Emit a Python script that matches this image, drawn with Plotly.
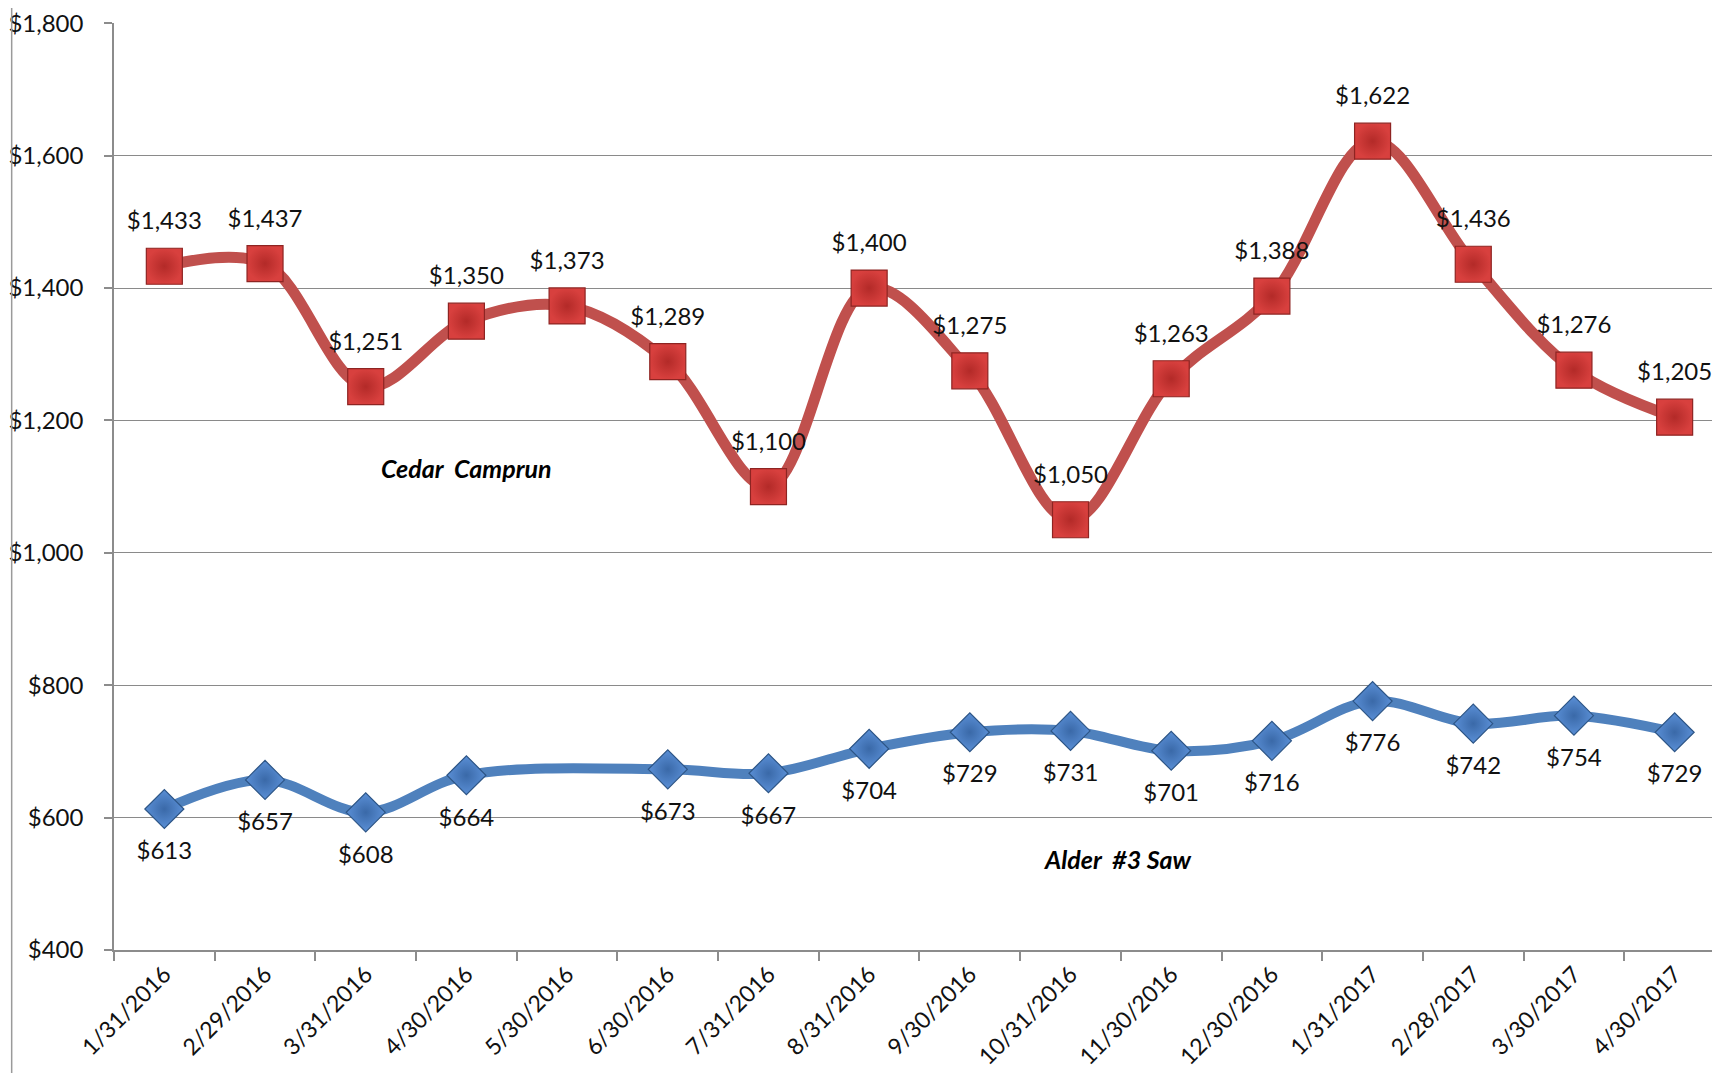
import plotly.graph_objects as go

dates = ["1/31/2016", "2/29/2016", "3/31/2016", "4/30/2016", "5/30/2016", "6/30/2016",
         "7/31/2016", "8/31/2016", "9/30/2016", "10/31/2016", "11/30/2016", "12/30/2016",
         "1/31/2017", "2/28/2017", "3/30/2017", "4/30/2017"]
cedar = [1433, 1437, 1251, 1350, 1373, 1289, 1100, 1400, 1275, 1050, 1263, 1388,
         1622, 1436, 1276, 1205]
alder = [613, 657, 608, 664, None, 673, 667, 704, 729, 731, 701, 716, 776, 742, 754, 729]

series_names = ["Cedar  Camprun", "Alder  #3 Saw"]

FONT = "Lato"
RED_LINE = "#C0504D"
BLUE_LINE = "#4F81BD"


def fmt(v):
    return "" if v is None else "${:,}".format(v)


fig = go.Figure()

# lines
fig.add_trace(go.Scatter(x=dates, y=cedar, mode="lines", line=dict(color=RED_LINE, width=11, shape="spline"),
                         hoverinfo="skip", showlegend=False))
fig.add_trace(go.Scatter(x=dates, y=alder, mode="lines", connectgaps=True,
                         line=dict(color=BLUE_LINE, width=10, shape="spline"),
                         hoverinfo="skip", showlegend=False))

# markers
fig.add_trace(go.Scatter(x=dates, y=cedar, mode="markers", name=series_names[0],
                         marker=dict(symbol="square", size=36, color="#D8403E",
                                     gradient=dict(type="radial", color="#B32A28"),
                                     line=dict(color="#8E2422", width=1.2)),
                         showlegend=False))
fig.add_trace(go.Scatter(x=dates, y=alder, mode="markers", name=series_names[1],
                         marker=dict(symbol="diamond", size=30, color="#5A8FD6",
                                     gradient=dict(type="radial", color="#3A69A8"),
                                     line=dict(color="#2D5586", width=1.2)),
                         showlegend=False))

# data labels (ghost markers to set the label offset)
fig.add_trace(go.Scatter(x=dates, y=cedar, mode="markers+text", text=[fmt(v) for v in cedar],
                         textposition="top center", textfont=dict(family=FONT, size=24, color="#111111"),
                         marker=dict(size=48, opacity=0), hoverinfo="skip", showlegend=False))
fig.add_trace(go.Scatter(x=dates, y=alder, mode="markers+text", text=[fmt(v) for v in alder],
                         textposition="bottom center", textfont=dict(family=FONT, size=24, color="#111111"),
                         marker=dict(size=50, opacity=0), hoverinfo="skip", showlegend=False))

fig.add_annotation(x=3.0, y=1128, xref="x", yref="y", text="<b><i>Cedar  Camprun</i></b>",
                   showarrow=False, font=dict(family=FONT, size=25, color="#000000"))
fig.add_annotation(x=9.47, y=538, xref="x", yref="y", text="<b><i>Alder  #3 Saw</i></b>",
                   showarrow=False, font=dict(family=FONT, size=25, color="#000000"))

# chart border line at far left
fig.add_shape(type="line", xref="paper", yref="paper", x0=-0.0634, x1=-0.0634, y0=-0.15, y1=1.02,
              line=dict(color="#9a9a9a", width=1.5))

fig.update_layout(
    width=1720, height=1073,
    margin=dict(l=103, r=0, t=11, b=131),
    paper_bgcolor="white", plot_bgcolor="white",
    font=dict(family=FONT, size=22, color="#111111"),
    showlegend=False,
)
fig.update_xaxes(type="category", range=[-0.5, 15.53], tickangle=-45, tickson="boundaries",
                 ticks="outside", ticklen=9, tickcolor="#8c8c8c", tickwidth=1.5,
                 showline=True, linecolor="#8c8c8c", linewidth=1.5, showgrid=False,
                 tickfont=dict(family=FONT, size=23, color="#111111"))
fig.update_yaxes(range=[400, 1800.5], dtick=200, tick0=400, tickprefix="$", tickformat=",",
                 ticks="outside", ticklen=8, tickcolor="#8c8c8c", tickwidth=1.5,
                 showline=True, linecolor="#8c8c8c", linewidth=1.5,
                 showgrid=True, gridcolor="#8a8a8a", gridwidth=1.4, zeroline=False,
                 ticklabelstandoff=16, ticklabeloverflow="allow",
                 tickfont=dict(family=FONT, size=24, color="#111111"))

fig.write_html("out.html")
